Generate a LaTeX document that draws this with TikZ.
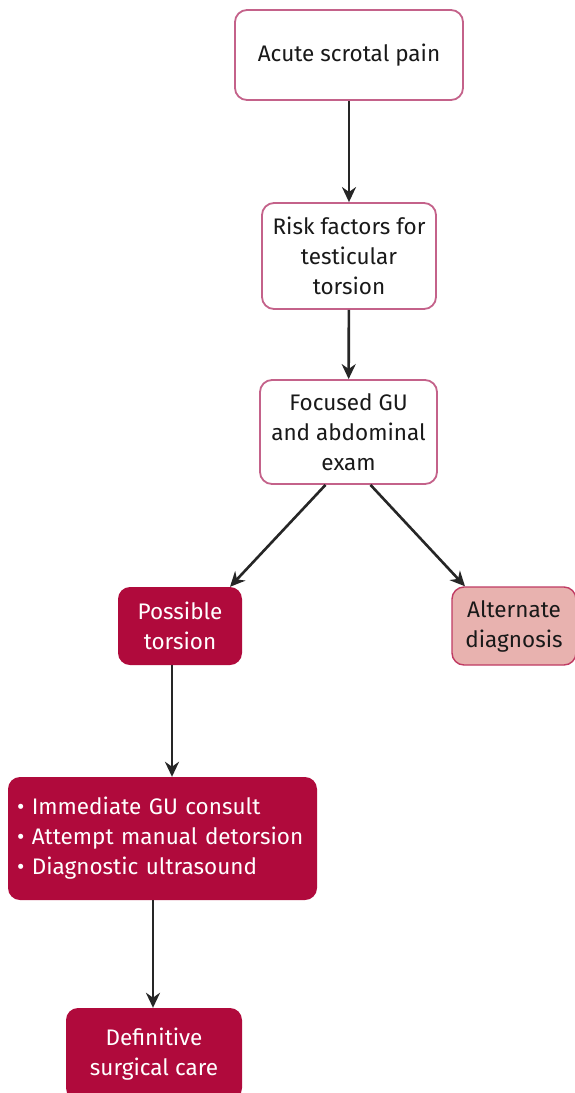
\documentclass[tikz,border=0pt]{standalone}
\usepackage{fontspec}
\setmainfont{Fira Sans}
\usetikzlibrary{arrows.meta}
\definecolor{crimson}{HTML}{B00A3C}
\definecolor{rosebox}{HTML}{E8B2AF}
\definecolor{roseline}{HTML}{C4628A}
\begin{document}
\begin{tikzpicture}[x=1pt,y=-1pt,
  arj/.style={line width=2.6pt,draw=black!85,-{Stealth[length=15pt,width=14pt]}},
  box/.style={rectangle,rounded corners=12pt,align=center,inner sep=0pt,
    font=\fontsize{22.5}{30}\selectfont},
  open/.style={box,draw=roseline,line width=1.8pt,fill=white,text=black!90},
  dark/.style={box,fill=crimson,text=white},
  pale/.style={box,draw=crimson!80,line width=1.4pt,fill=rosebox,text=black!90}]
\useasboundingbox[fill=white] (0,0) rectangle (575,1093);
\path
    node[open,minimum width=228pt,minimum height=90pt] (pain) at (349,55) {Acute scrotal pain}
    node[open,minimum width=174pt,minimum height=106pt] (risk) at (349,256) {Risk factors for\\testicular\\torsion}
    node[open,minimum width=177pt,minimum height=104pt] (exam) at (348.5,432) {Focused GU\\and abdominal\\exam}
    node[dark,minimum width=124pt,minimum height=78pt] (torsion) at (180,626) {Possible\\torsion}
    node[pale,minimum width=124pt,minimum height=78pt] (alt) at (514,626) {Alternate\\diagnosis}
    node[dark,text width=291pt,inner xsep=9pt,minimum height=123pt,align=left] (care) at (162.5,838.5)
      {• Immediate GU consult\\• Attempt manual detorsion\\• Diagnostic ultrasound}
    node[dark,minimum width=176pt,minimum height=92pt] (surgery) at (154,1054) {Definitive\\surgical care};
\draw[arj] (pain) -- (risk);
\draw[arj] (risk) -- (exam);
\draw[arj] ([xshift=-23pt]exam.south) -- ([xshift=50pt]torsion.north);
\draw[arj] ([xshift=22pt]exam.south) -- ([xshift=-49pt]alt.north);
\draw[arj] ([xshift=-8pt]torsion.south) -- ([xshift=9.5pt]care.north);
\draw[arj] ([xshift=-9.5pt]care.south) -- ([xshift=-1pt]surgery.north);
\end{tikzpicture}
\end{document}
